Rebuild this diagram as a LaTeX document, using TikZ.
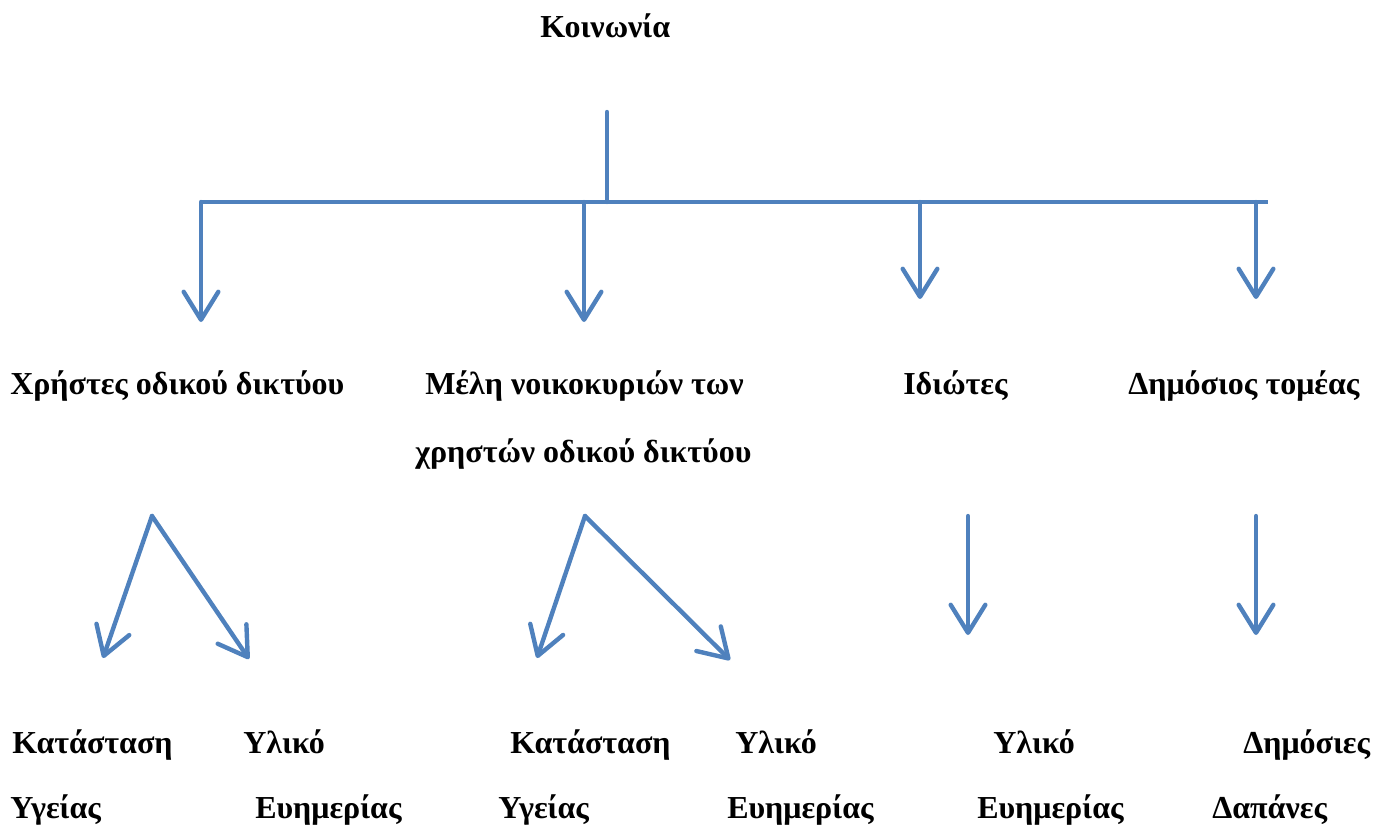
\documentclass[tikz,border=0pt]{standalone}
\usepackage{fontspec}
\setmainfont{Liberation Serif}
\usetikzlibrary{arrows.meta}
\definecolor{ln}{HTML}{4F81BD}
\begin{document}
\begin{tikzpicture}[x=0.75pt,y=-0.75pt,
  lbl/.style={font=\bfseries\fontsize{24}{28}\selectfont, inner sep=0pt, anchor=base west},
  conn/.style={draw=ln, line width=3.3pt, line cap=round},
  arr/.style={conn, -{Straight Barb[length=21pt,width=26pt,line cap=round,line join=round]}}]
\useasboundingbox (0,0) rectangle (1380,828);
% texts
\node[lbl] (root) at (540,37) {Κοινωνία};
\node[lbl] (a) at (10,394) {Χρήστες οδικού δικτύου};
\node[lbl] (b1) at (425,394) {Μέλη νοικοκυριών των};
\node[lbl] (b2) at (415,462) {χρηστών οδικού δικτύου};
\node[lbl] (c) at (903,394) {Ιδιώτες};
\node[lbl] (d) at (1128,394) {Δημόσιος τομέας};
\node[lbl] (a1) at (12,753) {Κατάσταση};
\node[lbl] (a1b) at (10,818) {Υγείας};
\node[lbl] (a2) at (243,753) {Υλικό};
\node[lbl] (a2b) at (255,818) {Ευημερίας};
\node[lbl] (b3) at (510,753) {Κατάσταση};
\node[lbl] (b3b) at (498,818) {Υγείας};
\node[lbl] (b4) at (735,753) {Υλικό};
\node[lbl] (b4b) at (727,818) {Ευημερίας};
\node[lbl] (c1) at (993,753) {Υλικό};
\node[lbl] (c1b) at (977,818) {Ευημερίας};
\node[lbl] (d1) at (1243,753) {Δημόσιες};
\node[lbl] (d1b) at (1212,818) {Δαπάνες};
% junction coordinates
\coordinate (top) at (607,112);
\coordinate (hub) at (607,202);
\coordinate (hl) at (201,202);
\coordinate (hr) at (1268,202);
\coordinate (ja) at (201,202);
\coordinate (jb) at (584,202);
\coordinate (jc) at (920,202);
\coordinate (jd) at (1256,202);
\coordinate (ta) at (201,322);
\coordinate (tb) at (584,322);
\coordinate (tc) at (920,299);
\coordinate (td) at (1256,299);
\coordinate (fa) at (152,516);
\coordinate (fa1) at (103,658);
\coordinate (fa2) at (249,659);
\coordinate (fb) at (585,516);
\coordinate (fb1) at (537,658);
\coordinate (fb2) at (730,660);
\coordinate (fc) at (968,516);
\coordinate (fc1) at (968,635);
\coordinate (fd) at (1256,516);
\coordinate (fd1) at (1256,635);
% connectors
\draw[conn] (top) -- (hub);
\draw[conn, line cap=butt] (hl) -- (hr);
\draw[arr] (ja) -- (ta);
\draw[arr] (jb) -- (tb);
\draw[arr] (jc) -- (tc);
\draw[arr] (jd) -- (td);
\draw[arr] (fa) -- (fa1);
\draw[arr] (fa) -- (fa2);
\draw[arr] (fb) -- (fb1);
\draw[arr] (fb) -- (fb2);
\draw[arr] (fc) -- (fc1);
\draw[arr] (fd) -- (fd1);
\end{tikzpicture}
\end{document}
